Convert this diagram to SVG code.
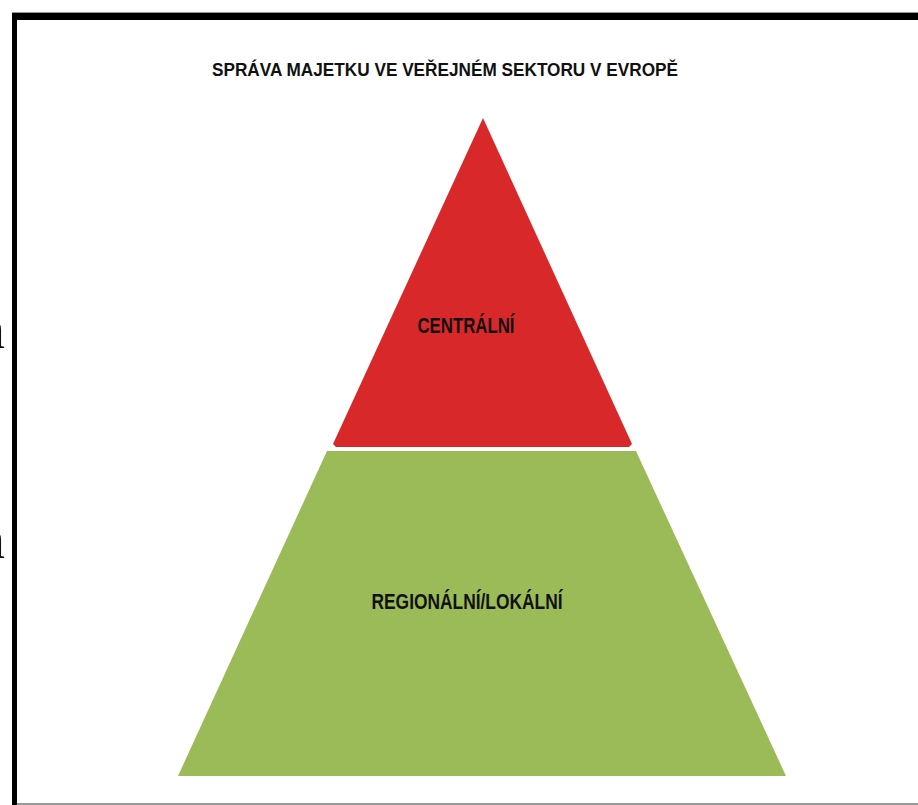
<svg xmlns="http://www.w3.org/2000/svg" width="918" height="805" viewBox="0 0 918 805">
<style>
.lbl{font-family:"Liberation Sans",Arial,sans-serif;font-weight:bold;fill:#111;text-anchor:middle}
.side{font-family:"Liberation Serif","Times New Roman",serif;font-size:56px;fill:#111;text-anchor:end}
</style>
<rect x="0" y="0" width="918" height="805" fill="#ffffff"/>
<text class="side" x="5" y="348">n</text>
<text class="side" x="5" y="558">n</text>
<g id="frame">
<rect x="12" y="12" width="906" height="1" fill="#999"/>
<rect x="12" y="13" width="906" height="7" fill="#000"/>
<rect x="12" y="13" width="5" height="792" fill="#000"/>
<rect x="17" y="803" width="901" height="2" fill="#999"/>
</g>
<g id="title">
<text class="lbl" x="445" y="76" font-size="18.5" textLength="466" lengthAdjust="spacingAndGlyphs">SPRÁVA MAJETKU VE VEŘEJNÉM SEKTORU V EVROPĚ</text>
</g>
<g id="central">
<polygon points="483,118 632,444 629,447 336,447 333,444" fill="#D8282A"/>
<text class="lbl" x="466" y="333" font-size="22" textLength="97" lengthAdjust="spacingAndGlyphs">CENTRÁLNÍ</text>
</g>
<g id="regional">
<polygon points="327,451 636,451 786,776 178,776" fill="#9BBB59"/>
<text class="lbl" x="467" y="609" font-size="22" textLength="191" lengthAdjust="spacingAndGlyphs">REGIONÁLNÍ/LOKÁLNÍ</text>
</g>
<g id="connectors"/>
</svg>
